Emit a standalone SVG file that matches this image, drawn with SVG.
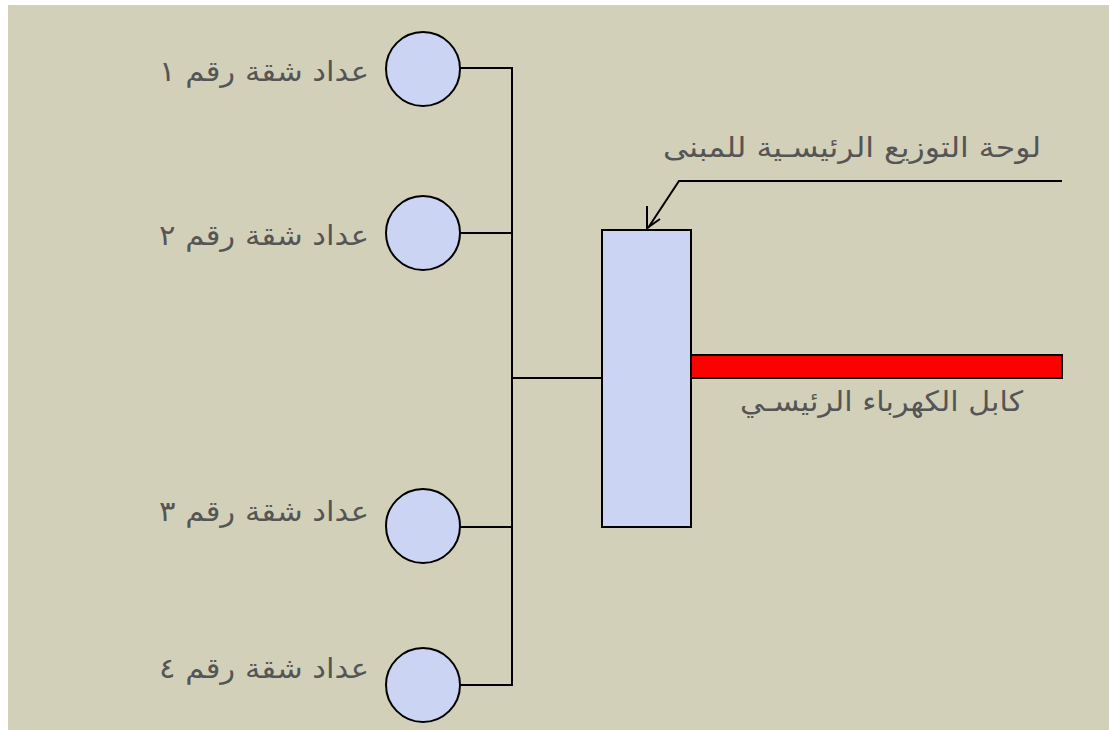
<svg xmlns="http://www.w3.org/2000/svg" width="1109" height="730" viewBox="0 0 1109 730">
<style>
.lbl{font-family:"DejaVu Sans",sans-serif;font-size:28px;fill:#555555;text-anchor:end}
.meter{fill:#ccd4f4;stroke:#000;stroke-width:2}
.wire{fill:none;stroke:#000;stroke-width:2}
</style>
<rect x="0" y="0" width="1109" height="730" fill="#ffffff"/>
<rect x="8" y="5" width="1101" height="725" fill="#d3d0b9"/>
<g id="connectors">
<polyline class="wire" points="460,68 512,68 512,685 460,685"/>
<line class="wire" x1="460" y1="233" x2="512" y2="233"/>
<line class="wire" x1="460" y1="527" x2="512" y2="527"/>
<line class="wire" x1="512" y1="378" x2="602" y2="378"/>
<polyline class="wire" points="1062,181 679,181 648,228"/>
<polyline class="wire" points="647,206 647,228 660,219"/>
</g>
<g id="meter1"><circle class="meter" cx="423" cy="69" r="37"/><text class="lbl" x="369" y="81" textLength="210" lengthAdjust="spacingAndGlyphs">عداد شقة رقم ١</text></g>
<g id="meter2"><circle class="meter" cx="423" cy="233" r="37"/><text class="lbl" x="369" y="245" textLength="210" lengthAdjust="spacingAndGlyphs">عداد شقة رقم ٢</text></g>
<g id="meter3"><circle class="meter" cx="423" cy="526" r="37"/><text class="lbl" x="369" y="521" textLength="210" lengthAdjust="spacingAndGlyphs">عداد شقة رقم ٣</text></g>
<g id="meter4"><circle class="meter" cx="423" cy="685" r="37"/><text class="lbl" x="369" y="678" textLength="210" lengthAdjust="spacingAndGlyphs">عداد شقة رقم ٤</text></g>
<g id="panel"><rect x="602" y="230" width="89" height="297" fill="#ccd4f4" stroke="#000" stroke-width="2"/></g>
<g id="panel-label"><text class="lbl" x="1041" y="157" textLength="378" lengthAdjust="spacingAndGlyphs">لوحة التوزيع الرئيسـية للمبنى</text></g>
<g id="cable"><rect x="691" y="355" width="371" height="23" fill="#ff0000" stroke="#000" stroke-width="2"/><text class="lbl" x="1023" y="411" textLength="283" lengthAdjust="spacingAndGlyphs">كابل الكهرباء الرئيسـي</text></g>
</svg>
